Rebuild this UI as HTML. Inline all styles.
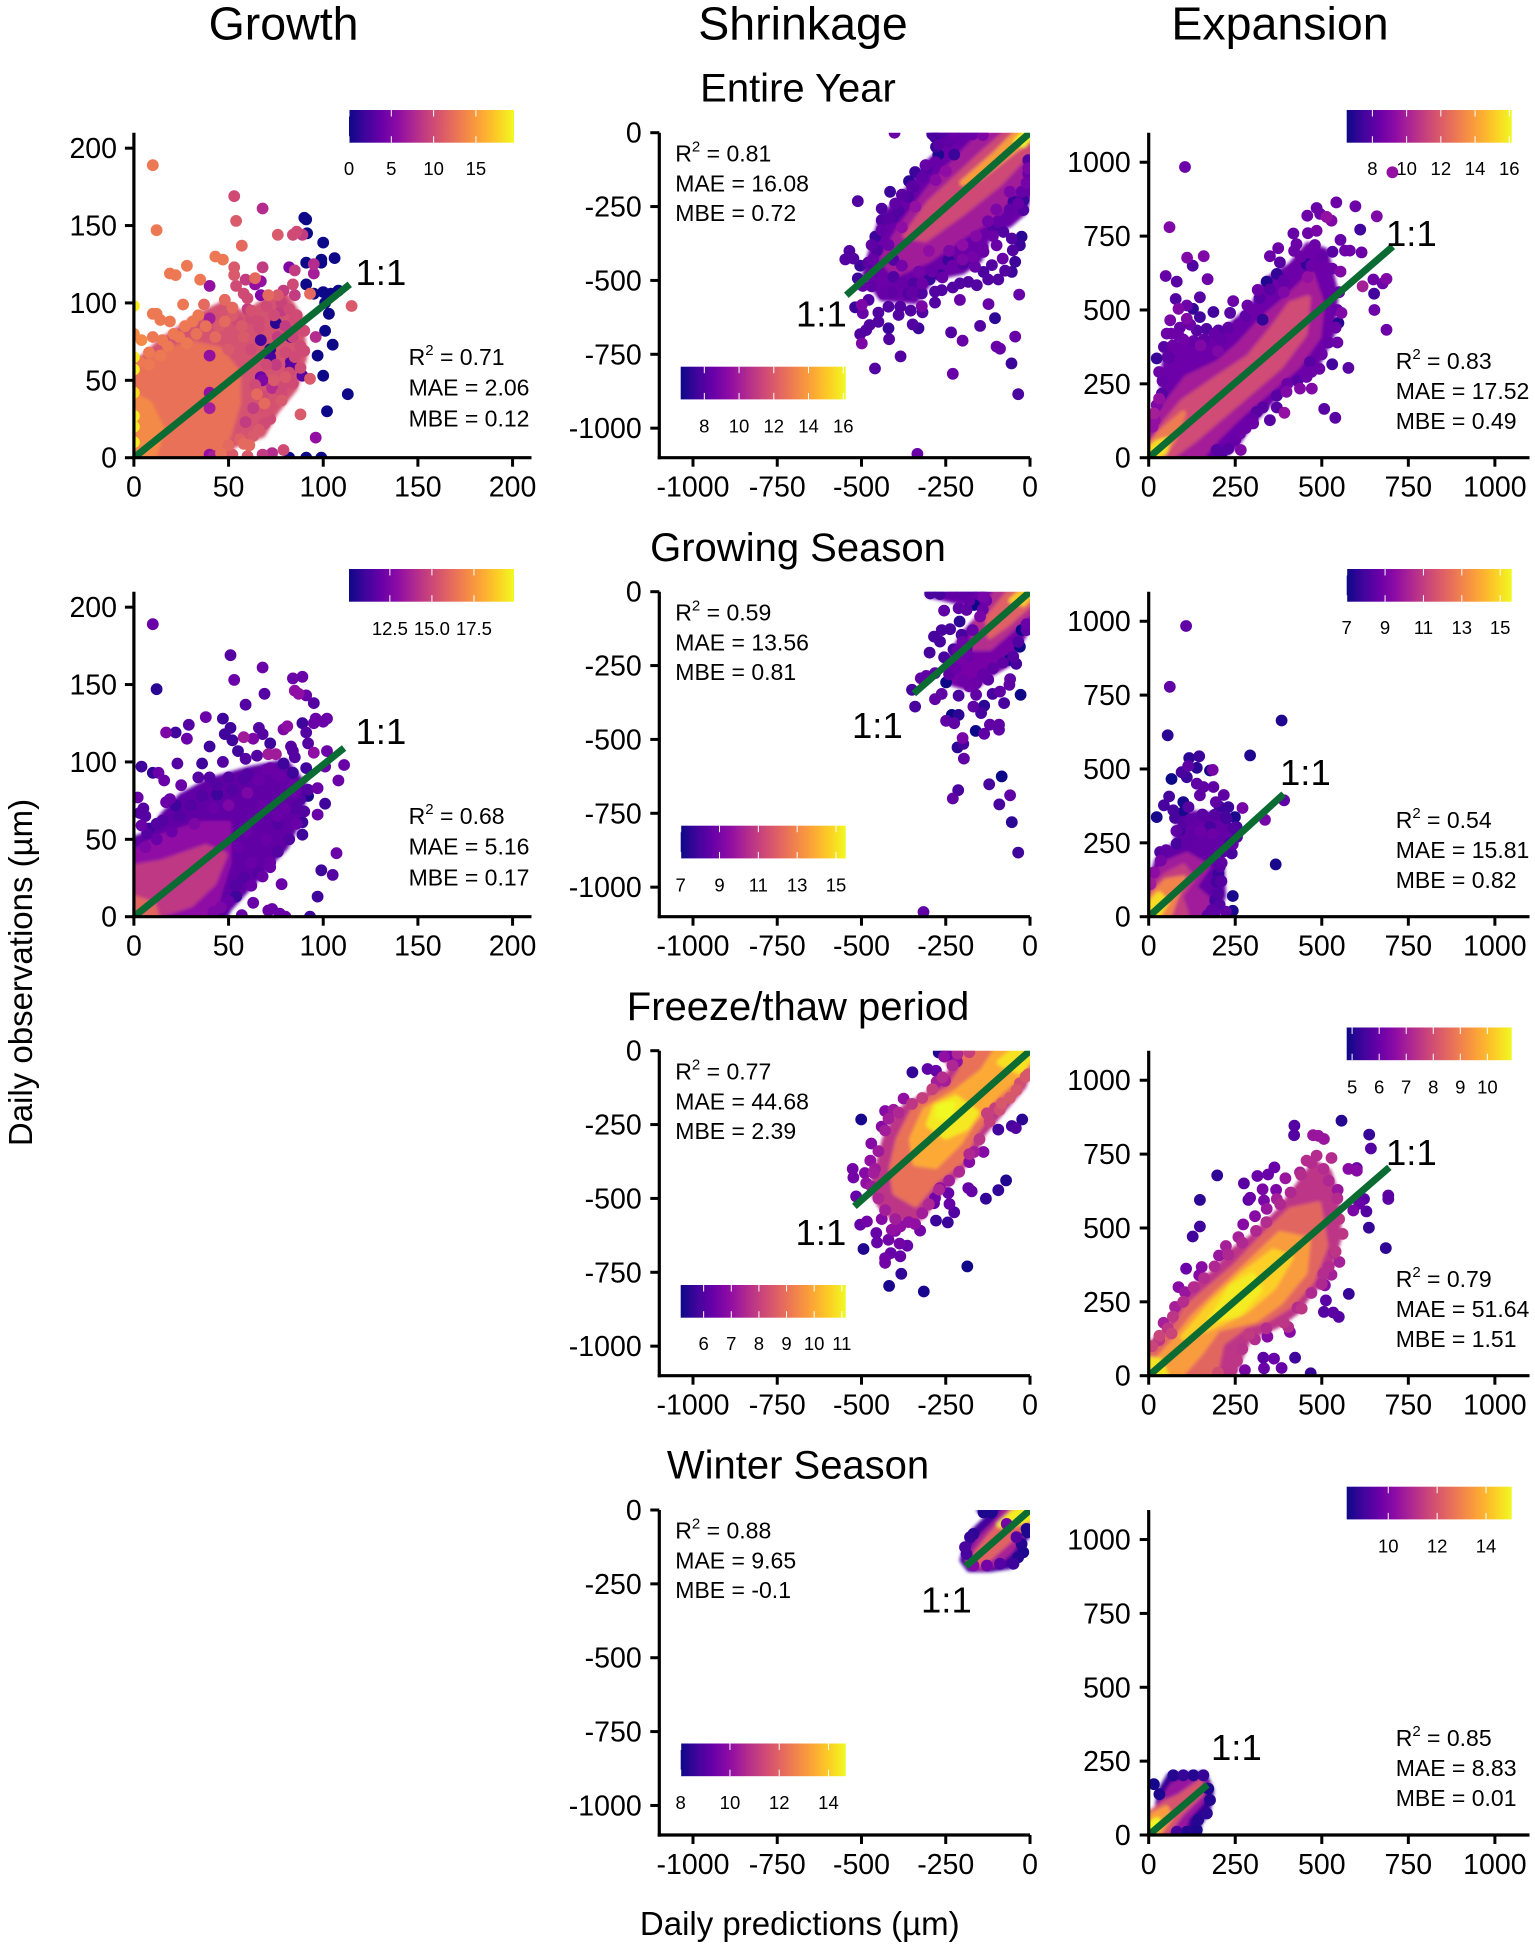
<!DOCTYPE html>
<html lang="en">
<head>
<meta charset="utf-8">
<title>Daily predictions vs observations</title>
<style>
html,body{margin:0;padding:0;background:#fff;width:1535px;height:1948px;overflow:hidden}
svg{display:block;font-family:"Liberation Sans",Arial,sans-serif;fill:#000}
.col{font-size:46.5px;text-anchor:middle}
.row{font-size:40px;text-anchor:middle}
.axt{font-size:33px;text-anchor:middle}
.st{font-size:23px}
.one{font-size:36.5px}
.sup{font-size:15px}
</style>
</head>
<body>
<svg id="chart" width="1535" height="1948" viewBox="0 0 1535 1948" xmlns="http://www.w3.org/2000/svg">
<defs>
<filter id="soft" x="-20%" y="-20%" width="140%" height="140%"><feGaussianBlur stdDeviation="1.5"/></filter>
<linearGradient id="plasma" x1="0" x2="1" y1="0" y2="0">
<stop offset="0" stop-color="#0d0887"/><stop offset=".1" stop-color="#41049d"/><stop offset=".2" stop-color="#6a00a8"/><stop offset=".3" stop-color="#8f0da4"/><stop offset=".4" stop-color="#b12a90"/><stop offset=".5" stop-color="#cc4778"/><stop offset=".6" stop-color="#e16462"/><stop offset=".7" stop-color="#f2844b"/><stop offset=".8" stop-color="#fca636"/><stop offset=".9" stop-color="#fcce25"/><stop offset="1" stop-color="#f0f921"/>
</linearGradient>
</defs>
<g id="panels"></g>

<text class="col" x="283.6" y="39.3">Growth</text>
<text class="col" x="803" y="39.3">Shrinkage</text>
<text class="col" x="1280" y="39.3">Expansion</text>
<text class="row" x="798" y="101.7">Entire Year</text>
<text class="row" x="798" y="561">Growing Season</text>
<text class="row" x="798" y="1020">Freeze/thaw period</text>
<text class="row" x="798" y="1478.3">Winter Season</text>
<text class="axt" x="32" y="972.5" transform="rotate(-90 32 972.5)">Daily observations (µm)</text>
<text class="axt" x="799.8" y="1935">Daily predictions (µm)</text>

<g>
<text class="one" x="355.5" y="285">1:1</text>
<text class="one" x="355.5" y="744">1:1</text>
<text class="one" x="796" y="326.7">1:1</text>
<text class="one" x="852" y="737.8">1:1</text>
<text class="one" x="795.5" y="1245">1:1</text>
<text class="one" x="921" y="1612.3">1:1</text>
<text class="one" x="1386" y="246">1:1</text>
<text class="one" x="1280" y="785">1:1</text>
<text class="one" x="1386" y="1165">1:1</text>
<text class="one" x="1211" y="1760">1:1</text>
</g>

<g class="st">
<text x="408.6" y="365">R<tspan class="sup" dy="-10">2</tspan><tspan dy="10"> = 0.71</tspan></text>
<text x="408.6" y="395.7">MAE = 2.06</text><text x="408.6" y="426.7">MBE = 0.12</text></g>
<g class="st">
<text x="408.6" y="824">R<tspan class="sup" dy="-10">2</tspan><tspan dy="10"> = 0.68</tspan></text>
<text x="408.6" y="854.7">MAE = 5.16</text><text x="408.6" y="885.7">MBE = 0.17</text></g>
<g class="st">
<text x="675.3" y="161.7">R<tspan class="sup" dy="-10">2</tspan><tspan dy="10"> = 0.81</tspan></text>
<text x="675.3" y="191.7">MAE = 16.08</text><text x="675.3" y="221">MBE = 0.72</text></g>
<g class="st">
<text x="675.3" y="620.7">R<tspan class="sup" dy="-10">2</tspan><tspan dy="10"> = 0.59</tspan></text>
<text x="675.3" y="650.7">MAE = 13.56</text><text x="675.3" y="680">MBE = 0.81</text></g>
<g class="st">
<text x="675.3" y="1079.7">R<tspan class="sup" dy="-10">2</tspan><tspan dy="10"> = 0.77</tspan></text>
<text x="675.3" y="1109.7">MAE = 44.68</text><text x="675.3" y="1139">MBE = 2.39</text></g>
<g class="st">
<text x="675.3" y="1538.7">R<tspan class="sup" dy="-10">2</tspan><tspan dy="10"> = 0.88</tspan></text>
<text x="675.3" y="1568.7">MAE = 9.65</text><text x="675.3" y="1598">MBE = -0.1</text></g>
<g class="st">
<text x="1395.7" y="369">R<tspan class="sup" dy="-10">2</tspan><tspan dy="10"> = 0.83</tspan></text>
<text x="1395.7" y="399">MAE = 17.52</text><text x="1395.7" y="429">MBE = 0.49</text></g>
<g class="st">
<text x="1395.7" y="828">R<tspan class="sup" dy="-10">2</tspan><tspan dy="10"> = 0.54</tspan></text>
<text x="1395.7" y="858">MAE = 15.81</text><text x="1395.7" y="888">MBE = 0.82</text></g>
<g class="st">
<text x="1395.7" y="1287">R<tspan class="sup" dy="-10">2</tspan><tspan dy="10"> = 0.79</tspan></text>
<text x="1395.7" y="1317">MAE = 51.64</text><text x="1395.7" y="1347">MBE = 1.51</text></g>
<g class="st">
<text x="1395.7" y="1746">R<tspan class="sup" dy="-10">2</tspan><tspan dy="10"> = 0.85</tspan></text>
<text x="1395.7" y="1776">MAE = 8.83</text><text x="1395.7" y="1806">MBE = 0.01</text></g>
</svg>

<script>
/* Tick labels */
const growthTicks = [0, 50, 100, 150, 200];
const shrinkTicks = [-1000, -750, -500, -250, 0];
const expansionTicks = [0, 250, 500, 750, 1000];

/* Colour-bar domains and ticks */
const growthEntireBarDomain = [0, 19.5];
const growthEntireBarTicks = [0, 5, 10, 15];
const growthEntireBarLabels = ["0", "5", "10", "15"];
const growthGrowingBarDomain = [10.07, 19.88];
const growthGrowingBarTicks = [12.5, 15, 17.5];
const growthGrowingBarLabels = ["12.5", "15.0", "17.5"];
const shrinkEntireBarDomain = [6.64, 16.14];
const shrinkEntireBarTicks = [8, 10, 12, 14, 16];
const shrinkEntireBarLabels = ["8", "10", "12", "14", "16"];
const shrinkGrowingBarDomain = [7, 15.5];
const shrinkGrowingBarTicks = [7, 9, 11, 13, 15];
const shrinkGrowingBarLabels = ["7", "9", "11", "13", "15"];
const shrinkFreezeBarDomain = [5.17, 11.14];
const shrinkFreezeBarTicks = [6, 7, 8, 9, 10, 11];
const shrinkFreezeBarLabels = ["6", "7", "8", "9", "10", "11"];
const shrinkWinterBarDomain = [8, 14.7];
const shrinkWinterBarTicks = [8, 10, 12, 14];
const shrinkWinterBarLabels = ["8", "10", "12", "14"];
const expansionEntireBarDomain = [6.5, 16.14];
const expansionEntireBarTicks = [8, 10, 12, 14, 16];
const expansionEntireBarLabels = ["8", "10", "12", "14", "16"];
const expansionGrowingBarDomain = [7, 15.6];
const expansionGrowingBarTicks = [7, 9, 11, 13, 15];
const expansionGrowingBarLabels = ["7", "9", "11", "13", "15"];
const expansionFreezeBarDomain = [4.8, 10.9];
const expansionFreezeBarTicks = [5, 6, 7, 8, 9, 10];
const expansionFreezeBarLabels = ["5", "6", "7", "8", "9", "10"];
const expansionWinterBarDomain = [8.3, 15.05];
const expansionWinterBarTicks = [10, 12, 14];
const expansionWinterBarLabels = ["10", "12", "14"];

/* 1:1 line end points (prediction, observation) */
const growthEntireLine = [114, 112];
const growthGrowingLine = [111, 109];
const shrinkEntireLine = [-545, -550];
const shrinkGrowingLine = [-345, -345];
const shrinkFreezeLine = [-521, -527];
const shrinkWinterLine = [-190, -190];
const expansionEntireLine = [705, 715];
const expansionGrowingLine = [390, 415];
const expansionFreezeLine = [695, 705];
const expansionWinterLine = [170, 170];

const growthEntireBands = [
[10.5,[[0,0],[0,60],[8,68],[15,76],[25,84],[35,92],[48,100],[58,92],[68,100],[80,105],[88,90],[90,65],[85,45],[75,30],[68,15],[52,8],[48,0]]],
[12.5,[[0,0],[0,58],[10,65],[20,70],[30,74],[45,70],[55,55],[55,35],[50,15],[45,0]]],
[14,[[0,0],[0,40],[8,35],[15,18],[10,0]]]];
const growthGrowingBands = [
[11.8,[[0,0],[0,50],[10,55],[15,65],[25,78],[40,88],[60,95],[80,100],[90,85],[88,65],[80,45],[72,35],[65,25],[50,5],[48,0]]],
[13,[[0,0],[0,42],[15,52],[35,60],[50,60],[50,35],[45,15],[42,0]]],
[14.5,[[0,0],[0,32],[15,35],[38,45],[48,40],[42,22],[30,8],[10,0]]],
[16,[[0,0],[0,12],[10,8],[12,0]]]];
const shrinkEntireBands = [
[8.6,[[-295,0],[-250,-50],[-300,-100],[-360,-190],[-440,-290],[-470,-400],[-490,-480],[-440,-560],[-340,-570],[-290,-490],[-200,-470],[-150,-430],[-120,-340],[-60,-310],[-20,-270],[0,-200],[0,0]]],
[10,[[-140,0],[-200,-70],[-300,-190],[-390,-330],[-440,-430],[-400,-480],[-300,-430],[-200,-350],[-100,-280],[-30,-170],[0,-100],[0,0]]],
[11.5,[[-70,0],[-150,-80],[-300,-240],[-370,-350],[-310,-360],[-200,-270],[-90,-170],[0,-60],[0,0]]],
[14,[[-40,0],[-100,-70],[-200,-170],[-150,-150],[-60,-70],[0,-20],[0,0]]],
[16,[[-15,0],[-40,-30],[-20,-40],[0,-10],[0,0]]]];
const shrinkGrowingBands = [
[8.7,[[-300,0],[-300,-10],[-150,-50],[-140,0]]],
[9,[[-140,0],[-130,-60],[-200,-150],[-250,-250],[-230,-310],[-170,-330],[-120,-280],[-60,-240],[-30,-170],[0,-110],[0,0]]],
[10.5,[[-100,0],[-160,-100],[-170,-190],[-120,-190],[-50,-120],[0,-70],[0,0]]],
[12,[[-60,0],[-125,-90],[-120,-150],[-70,-110],[0,-40],[0,0]]],
[14.5,[[-25,0],[-55,-30],[-20,-40],[0,-15],[0,0]]]];
const shrinkFreezeBands = [
[7.8,[[-260,0],[-230,-60],[-260,-110],[-290,-140],[-370,-190],[-400,-230],[-430,-300],[-450,-390],[-470,-470],[-440,-530],[-380,-590],[-320,-560],[-270,-480],[-220,-420],[-160,-330],[-140,-280],[-80,-200],[-20,-120],[0,-60],[0,0]]],
[9,[[-220,0],[-200,-60],[-240,-130],[-340,-190],[-390,-300],[-410,-400],[-400,-480],[-340,-520],[-280,-440],[-200,-370],[-170,-290],[-110,-190],[-40,-120],[0,-30],[0,0]]],
[10,[[-100,0],[-140,-70],[-220,-140],[-310,-200],[-350,-300],[-340,-380],[-280,-390],[-210,-310],[-170,-240],[-100,-150],[-20,-70],[0,-20],[0,0]]],
[10.9,[[-220,-160],[-280,-190],[-300,-250],[-250,-290],[-190,-260],[-160,-210]]],
[10.8,[[-50,0],[-90,-40],[-30,-70],[0,-30],[0,0]]],
[11.14,[[-230,-180],[-270,-190],[-270,-220],[-240,-230]]]];
const shrinkWinterBands = [
[8.7,[[-150,0],[-120,-20],[-165,-70],[-190,-130],[-200,-170],[-180,-200],[-120,-200],[-60,-190],[-40,-140],[-20,-100],[0,-80],[0,0]]],
[10.5,[[-75,0],[-90,-30],[-150,-100],[-185,-165],[-150,-195],[-100,-180],[-60,-140],[-10,-60],[0,-40],[0,0]]],
[12,[[-50,0],[-120,-90],[-180,-180],[-140,-180],[-60,-100],[0,-50],[0,0]]],
[14.5,[[-30,0],[-50,-10],[-90,-50],[-60,-50],[-15,-35],[0,-30],[0,0]]]];
const expansionEntireBands = [
[8.5,[[0,0],[0,100],[40,220],[50,370],[100,390],[180,410],[240,450],[300,510],[340,600],[410,650],[460,720],[510,700],[540,560],[530,420],[480,300],[420,260],[360,200],[290,110],[250,40],[205,0]]],
[10,[[0,0],[0,80],[50,180],[110,270],[200,320],[260,380],[330,470],[400,540],[470,620],[500,520],[490,410],[430,310],[360,240],[270,150],[200,70],[150,0]]],
[11.5,[[0,30],[50,120],[100,190],[200,270],[290,340],[360,440],[410,520],[460,540],[450,420],[380,310],[300,230],[200,130],[130,60],[60,0],[0,0]]],
[13,[[0,40],[40,90],[100,150],[70,60],[40,10],[10,0],[0,0]]],
[15.5,[[0,25],[25,50],[55,60],[45,20],[20,0],[0,0]]]];
const expansionGrowingBands = [
[8.6,[[80,300],[130,350],[210,340],[245,290],[230,230],[150,220],[85,240]]],
[8.6,[[0,0],[0,90],[25,190],[90,260],[170,240],[210,180],[215,70],[190,0]]],
[10,[[0,0],[0,120],[50,180],[110,210],[170,170],[130,100],[170,60],[170,0]]],
[11,[[0,0],[0,80],[50,140],[100,170],[125,130],[90,70],[110,0]]],
[13,[[0,0],[0,60],[50,120],[100,130],[75,60],[60,10],[30,0]]],
[15,[[0,0],[0,40],[30,75],[50,50],[25,0]]]];
const expansionFreezeBands = [
[7.5,[[0,0],[0,100],[30,130],[60,160],[90,240],[140,310],[190,350],[240,420],[300,470],[380,560],[430,640],[480,720],[520,690],[540,620],[550,470],[510,320],[470,290],[430,220],[370,170],[290,130],[260,50],[240,0]]],
[8.5,[[0,0],[0,90],[70,150],[110,230],[170,290],[250,370],[330,470],[410,560],[490,580],[510,440],[470,320],[410,240],[340,190],[280,170],[210,110],[190,0]]],
[9.5,[[0,20],[70,110],[130,200],[200,280],[290,380],[380,480],[460,460],[450,350],[380,250],[310,190],[200,160],[150,80],[90,0],[0,0]]],
[10.3,[[100,130],[180,240],[270,340],[360,420],[410,400],[360,300],[280,220],[190,170]]],
[10.7,[[180,190],[240,300],[300,340],[320,290],[260,210]]],
[10.6,[[0,0],[0,55],[30,50],[50,0]]]];
const expansionWinterBands = [
[8.8,[[5,0],[0,40],[25,90],[35,150],[60,200],[160,205],[180,150],[170,80],[145,40],[140,0]]],
[10.5,[[0,0],[0,50],[30,100],[70,170],[120,190],[170,170],[150,110],[110,60],[100,20],[70,0]]],
[12,[[0,0],[0,70],[50,110],[90,130],[150,180],[150,140],[90,70],[60,20],[40,0]]],
[13.5,[[0,0],[0,60],[50,90],[60,60],[30,10]]],
[15,[[0,10],[0,35],[25,50],[25,25]]]];

/* Individual points: [prediction, observation, density] */
const growthEntirePoints = [[10,189,13],[12,147,13],[53,169,10],[68,161,8],[54,153,11],[90,155,0],[91,154,0],[91.5,145,0],[76,144,11],[84,144,10],[86,146,10],[89,144,9],[100,139,0],[57,137,12],[106,129,0],[99,128,0],[99,126,0],[91,126,0],[43,130,13],[47,128,13],[28,124,13],[19,119,13],[22,118,13],[35,115,13],[40,111,6],[53,123,11],[53,118,11],[68,123,9],[82,123,5],[85,121,9],[95,125,8],[95,119,7],[59,115,9],[64,116,12],[64,112,6],[67,114,6],[91,112,0],[54,111,10],[58,106,10],[67,105,5],[71,105,12],[76,105,11],[79,108,9],[84,112,10],[85,105,9],[93,106,12],[95,106,0],[100,107,0],[104,106,0],[108,108,0],[101,100,0],[103,93,0],[115,98,11],[26,99,13],[37,99,12],[48,102,12],[52,97,12],[60,103,10],[60,96,9],[10,93,13],[12,93,13],[14,89,13],[19,88,13],[34,92,13],[40,90,7],[27,85,13],[31,88,13],[75,87,1],[101,82,0],[90,82,10],[96,78,8],[105,73,0],[97,66,0],[89,53,3],[100,53,0],[93,51,11],[113,41,0],[102,30,0],[88,28,11],[78,37,11],[96,13,6],[79,5,10],[73,3,8],[68,2,9],[91,0,0],[99,0,0],[82,0,0],[90,69,10],[83,59,3],[83,62,3],[79,47,10],[73,45,8],[65,41,12],[69,22,10],[69,35,12],[59,23,9],[63,32,9],[61,8,12],[58,9,12],[0,98,19],[0,65,19],[0,57,19],[0,42,18],[0,27,19],[0,20,19],[0,10,19],[0,80,14],[4,76,14],[8,68,13],[40,42,6],[40,32,7],[40,66,6],[67,52,4],[68,50,5],[72,70,1],[72,65,2],[83,78,2],[67,76,2],[40,2,6],[64,47,10],[75,60,9],[80,85,9],[78,95,9],[85,90,10],[10,78,13],[15,76,13],[21,80,13],[45,85,11],[55,88,10],[62,90,10],
[3,62,13],[8,60,13],[14,66,13],[18,72,13],[24,78,13],[28,74,13],[33,80,12.5],[38,85,12.5],[43,78,12],[48,88,12],[52,92,11],[57,85,11],[62,95,10.5],[66,88,10],[70,98,10],[74,92,10],[78,100,9.5],[82,96,10],[86,92,10],[87,84,10],[84,78,9.5],[88,72,10],[85,65,10],[88,58,10],[82,55,10],[84,48,10],[78,42,10],[80,52,11],[74,35,10.5],[70,30,10.5],[72,25,10],[66,18,11],[63,14,11],[56,12,11.5],[50,8,12],[46,3,12.5],[52,2,11],[60,1,11],[42,1,7],[68,40,10],[74,50,11],[70,60,10],[62,70,10],[58,78,11],[50,70,11],[66,84,10],[76,78,9],[80,68,10]];
const growthGrowingPoints = [[10,189,12],[12,147,10.6],[51,169,11.5],[68,161,12],[53,153,12],[84,154,12],[89,155,12],[69,144,11.5],[85,146,13],[87,144,13],[91,143,12],[95,138,11.5],[59,137,11.5],[38,129,12],[47,128,11],[29,124,11.5],[17,119,12.5],[22,119,11],[28,115,12],[40,110,11],[51,122,11],[48,118,11],[66,122,11.5],[79,121,12.5],[81,123,13],[89,125,11],[96,128,12],[102,128,12],[100,126,12],[95,125,12],[91,119,11.5],[68,118,11.5],[58,116,13.5],[63,115,12.5],[72,112,11],[52,114,11],[55,107,11],[83,110,11.5],[84,107,11.5],[85,103,11.5],[92,112,11.5],[95,106,13],[102,107,12],[65,104,11.5],[71,105,13.5],[75,105,13.5],[59,102,11.5],[47,100,11.5],[36,99,11],[23,99,11.5],[4,97,11],[10,93,10.8],[13,93,12],[16,88,12],[79,99,11],[84,93,11],[91,96,11],[101,97,12],[111,98,12],[108,88,12],[97,83,12],[92,82,11.5],[92,78,10.3],[101,73,11],[97,66,12],[89,61,11],[89,53,11],[107,41,12],[99,30,11],[105,27,11.5],[97,13,11],[78,21,12],[72,35,12],[68,26,12],[62,20,12],[54,13,11],[63,9,12],[73,5,12],[71,4,12],[77,2,12],[93,0,11],[57,1,12],[80,0,12],[2,77,12],[5,70,11.5],[3,67,11.5],[6,65,11.5],[4,59,12],[8,57,11],[7,54,11.5],[12,60,11.5],[17,74,12],[19,76,12],[25,85,12],[34,90,11.5],[40,90,11.5],[44,79,11],[50,90,11.5],[58,89,11.5],[70,95,12],[75,92,12],[85,80,12],[80,70,12],[76,60,11.5],[85,70,11.5],
[6,45,12.5],[12,50,12],[20,55,12],[15,62,11.5],[24,65,11.5],[30,72,11.5],[22,72,11],[36,78,11.5],[44,85,11.5],[52,82,11.5],[60,92,11.5],[66,88,12],[72,96,12],[78,90,12],[84,85,12],[88,76,11.5],[90,68,11.5],[86,60,12],[82,50,11.5],[76,42,11.5],[72,32,12],[66,28,11.5],[62,35,12],[58,25,11.5],[54,20,11.5],[50,10,12],[46,6,12.5],[42,3,12.5],[70,50,12],[76,65,12],[68,72,12],[60,80,12.5],[50,72,12.5],[42,70,12],[32,60,12.5],[40,55,13],[55,45,12],[60,55,12]];
const shrinkEntirePoints = [[-402,0,8.5],[-511,-232,8],[-415,-200,7.5],[-341,-133,7.5],[-359,-164,7.2],[-272,-74,7],[-279,-48,7.5],[-225,-74,7.5],[-440,-257,8],[-390,-265,8],[-459,-352,7.5],[-536,-400,8],[-548,-429,8],[-524,-426,8],[-504,-450,7.5],[-466,-429,8.5],[-511,-493,7.5],[-496,-519,8.5],[-479,-566,8],[-519,-591,7.5],[-499,-583,9],[-496,-611,8.5],[-450,-609,8],[-450,-640,8],[-476,-651,8],[-420,-662,7.5],[-504,-682,8],[-486,-668,8],[-499,-713,9],[-418,-699,8],[-385,-589,8],[-390,-617,8],[-354,-602,8],[-321,-587,9],[-319,-608,8],[-348,-649,8],[-331,-662,7.5],[-384,-757,8],[-460,-798,8],[-234,-676,8],[-200,-704,8.5],[-148,-654,8],[-104,-628,7.2],[-123,-580,8.5],[-32,-548,8.5],[-44,-690,8.5],[-99,-724,8.5],[-89,-731,8.5],[-55,-781,7.5],[-229,-816,8.5],[-35,-885,7.8],[-334,-1087,8.5],[-282,-575,8],[-262,-533,8],[-282,-538,8],[-321,-544,8],[-298,-497,7.5],[-267,-482,7.5],[-229,-524,8],[-208,-566,8.5],[-208,-510,8],[-183,-505,8],[-158,-516,8],[-163,-454,8.5],[-138,-471,7.8],[-113,-448,8],[-94,-497,8],[-124,-497,8],[-74,-467,8],[-54,-471,7.5],[-44,-437,7.5],[-81,-426,8.5],[-51,-398,8],[-30,-381,7.5],[-25,-352,7.2],[-54,-358,8],[-99,-381,8.5],[-79,-336,8],[-20,-262,8],[-20,-229,7.5],[-49,-234,7.5],[-10,-195,8.5],[-5,-139,8.5],[-5,-93,8],[-109,-319,8],[-138,-403,8.5],[-198,-443,8],[-242,-431,7.5],[-405,-431,8],[-405,-488,8],[-361,-544,8],[-346,-510,8],[-435,-544,8.5],[-420,-589,8],[-454,-398,8],[-282,-15,7.5],[-257,-3,8],[-227,-9,8.5],[-208,-26,8.5],[-306,-122,8],[-346,-184,8],[-361,-217,8],[-405,-285,8],[-440,-296,8],
[-470,-380,8.3],[-480,-440,8.2],[-460,-470,8.5],[-470,-520,8.3],[-440,-500,8.6],[-410,-540,8.3],[-380,-510,8.5],[-350,-540,8.4],[-320,-510,8.6],[-290,-470,8.5],[-260,-490,8.5],[-230,-450,8.6],[-200,-430,9],[-170,-420,8.8],[-140,-390,8.6],[-110,-350,8.6],[-125,-300,8.8],[-95,-300,8.5],[-70,-290,8.5],[-60,-260,8.4],[-35,-240,8.5],[-25,-200,8.5],[-10,-170,8.8],[-5,-120,9],[-440,-330,8.4],[-420,-290,8.2],[-400,-240,8.3],[-380,-210,8.2],[-350,-180,8.2],[-320,-150,8.3],[-310,-110,8.5],[-280,-100,8.5],[-270,-40,8.2],[-240,-30,8.3],[-200,-10,8.5],[-170,-5,8.6],[-140,-8,9],[-290,-5,7.8],[-420,-380,8.6],[-380,-450,8.8],[-330,-470,8.8],[-240,-400,9],[-160,-350,9.2],[-100,-260,9],[-60,-200,9],[-380,-320,9.5],[-300,-400,9.5],[-200,-380,9.5],[-340,-250,9.6],[-250,-130,9.5],[-280,-160,9.3]];
const shrinkGrowingPoints = [[-255,-64,8.5],[-209,-101,7.5],[-285,-152,8],[-262,-130,8],[-237,-127,8],[-298,-206,8],[-255,-222,8],[-267,-169,8],[-203,-146,8],[-227,-195,8],[-188,-191,8.5],[-166,-45,7],[-212,-56,8.5],[-25,-130,7],[-30,-186,7],[-10,-130,8.5],[-61,-231,7],[-41,-244,8],[-59,-296,8.5],[-61,-315,8.5],[-124,-298,8.5],[-28,-349,7],[-77,-377,8],[-89,-338,8.5],[-111,-346,8],[-160,-349,8.5],[-136,-386,7.5],[-168,-389,8.5],[-145,-411,8],[-212,-352,8],[-249,-307,7],[-282,-364,8.5],[-262,-346,8.5],[-308,-285,8.5],[-324,-293,8.5],[-282,-276,8.5],[-350,-332,8],[-341,-389,8],[-232,-417,7],[-212,-417,7.5],[-249,-437,8.5],[-225,-445,8.5],[-161,-471,7],[-136,-481,8.5],[-119,-450,8.5],[-92,-450,8.5],[-92,-467,8.5],[-200,-495,9],[-198,-515,8],[-215,-527,7.5],[-196,-565,8.5],[-84,-625,7],[-121,-652,8],[-59,-689,8.5],[-91,-720,8],[-54,-780,7.5],[-35,-883,7.8],[-213,-672,8],[-229,-700,8.5],[-316,-1084,8.5],[-296,-6,8],[-267,-8,8],[-232,-6,8.5],[-203,-8,8.5],[-173,-6,8.5],[-138,-17,9],[-188,-62,8.5],[-148,-84,9],
[-240,-280,8.5],[-220,-260,8.7],[-200,-300,8.8],[-180,-320,8.8],[-160,-310,8.7],[-140,-280,8.6],[-110,-260,8.5],[-80,-240,8.5],[-50,-220,8.3],[-35,-170,8.2],[-10,-110,8.7],[-180,-220,8.8],[-215,-200,8.7],[-200,-170,8.8],[-170,-130,8.6],[-140,-60,8.7],[-130,-30,8.8],[-180,-30,8.6],[-150,-10,8.7]];
const shrinkFreezePoints = [[-501,-233,5.3],[-349,-73,5.6],[-304,-62,6.2],[-279,-68,6.3],[-271,-6,5.4],[-245,-15,6.5],[-217,-37,7],[-277,-105,7.3],[-252,-102,7.3],[-375,-162,7],[-430,-204,6.8],[-405,-200,7.2],[-440,-257,6.8],[-471,-314,6.8],[-474,-372,7],[-526,-400,6.5],[-524,-429,6.5],[-490,-414,6.8],[-486,-448,7],[-516,-493,6.3],[-464,-414,7.3],[-504,-589,6.3],[-484,-578,6.5],[-456,-617,6.3],[-454,-649,6.3],[-494,-671,5.4],[-420,-640,6.5],[-413,-685,6.3],[-385,-696,6.3],[-430,-718,6.5],[-430,-702,6.5],[-382,-755,5.6],[-418,-796,5.3],[-315,-815,5.3],[-186,-730,5.2],[-364,-660,6.3],[-387,-653,6.5],[-410,-606,7],[-385,-595,7],[-341,-587,7],[-326,-609,6.5],[-279,-575,5.7],[-244,-581,5.7],[-225,-547,6],[-239,-519,6.3],[-242,-482,6.3],[-285,-516,6.3],[-282,-499,6.5],[-267,-465,7],[-183,-465,6.3],[-173,-476,6.3],[-131,-501,5.6],[-94,-472,5.6],[-71,-439,5.4],[-180,-377,6.8],[-138,-343,6.8],[-166,-343,7.3],[-94,-267,5.8],[-54,-255,5.8],[-42,-262,6],[-23,-233,5.5],[-13,-88,8.5],[-40,-133,8.5],[-84,-178,8.5],[-104,-195,8],[-128,-212,8],
[-430,-270,7.3],[-420,-230,7.3],[-390,-210,7.5],[-350,-180,7.8],[-320,-160,8],[-290,-130,8],[-260,-90,7.6],[-230,-50,7.5],[-255,-20,7],[-215,-10,7.5],[-180,-5,8],[-450,-340,7.2],[-460,-400,7.2],[-470,-460,7.2],[-450,-500,7.5],[-430,-540,7.3],[-400,-570,7.3],[-360,-580,7],[-320,-550,7.3],[-300,-520,7.5],[-270,-470,7.5],[-240,-440,7.3],[-210,-410,7.5],[-180,-350,7.5],[-150,-300,7.8],[-120,-240,8],[-90,-200,8.3],[-60,-160,8.5],[-30,-110,8.3],[-5,-80,8.5],[-440,-570,6.8],[-400,-610,6.8]];
const shrinkWinterPoints = [[-138,-8,8.2],[-114,-8,8.2],[-168,-81,8.4],[-178,-92,8.5],[-188,-149,8.8],[-193,-126,8.8],[-10,-64,8.2],[-8,-75,8.2],[-25,-115,8.3],[-20,-143,8.2],[-35,-160,8.3],[-49,-182,8.6],[-89,-182,9],[-128,-188,9.5],[-168,-188,9.8],[-40,-92,9],[-69,-47,9.5]];
const expansionEntirePoints = [[105,984,8.5],[704,966,9.5],[60,780,9],[49,615,8.3],[81,596,8],[111,677,9],[127,650,7.8],[159,682,9],[170,604,8.5],[78,537,7.8],[148,543,8],[23,336,7.3],[57,339,7.5],[128,504,7.2],[148,476,7.5],[187,493,7.5],[244,530,8.5],[235,490,8],[285,515,8.5],[329,467,7.2],[315,568,8.5],[341,596,6.9],[370,622,7.2],[350,682,8.5],[374,709,8.5],[379,661,8],[418,759,8.3],[427,723,8.5],[458,819,8.5],[485,845,8.3],[495,825,8.5],[514,815,9.5],[528,802,9],[542,864,8.5],[597,851,8.5],[659,817,9],[611,772,7.5],[554,737,8.3],[531,697,8],[567,701,8.5],[581,701,8.5],[615,695,8.5],[485,768,8.8],[456,656,7.2],[459,611,9.5],[554,630,9],[618,580,10],[649,603,8.5],[676,590,8.5],[687,605,9],[651,555,7.5],[652,500,8.5],[687,433,8.5],[557,490,9],[548,456,7],[545,390,8.5],[530,316,7.5],[577,304,8],[507,165,8],[539,135,8],[493,301,8.5],[466,324,8],[471,234,9],[437,234,9],[456,273,8.5],[398,223,9],[392,152,9.5],[350,127,8],[302,116,8.5],[312,155,8],[370,170,8],[266,26,9],[196,26,8],[264,82,8.5],[44,375,8],[52,420,8.5],[86,414,8.5],[62,465,8.8],[86,504,9],[110,515,8.5],[110,470,9],[139,431,8],[167,436,7.8],[201,431,8],[38,217,8],[23,178,9],[18,127,9.5],[11,105,9.5],
[40,260,8.3],[60,300,8.5],[55,340,8.2],[70,380,8.5],[100,400,8.6],[130,395,8.3],[160,400,8.2],[190,420,8.3],[210,400,8.3],[230,440,8.2],[260,450,8.5],[280,480,8.2],[300,500,8.5],[320,540,8],[350,570,8],[390,600,8.3],[420,640,8.5],[440,680,8.5],[480,720,8.5],[500,680,8.3],[530,640,8.5],[550,560,8.3],[545,500,8.3],[540,440,8.5],[520,390,8.3],[500,350,8.5],[470,290,8.5],[430,260,8],[400,250,8.5],[370,210,8],[330,170,8],[300,130,8.3],[280,100,8.5],[250,60,8.3],[230,30,8],[210,10,8],[30,290,8.5],[90,440,8.3],[65,420,8.5],[120,450,8.5],[150,380,9],[200,360,9],[420,700,8.5],[460,760,8.5],[470,650,8.5],[390,560,9],[30,200,9.5],[15,150,10]];
const expansionGrowingPoints = [[108,984,8.5],[61,778,8.5],[55,614,7.5],[384,664,7.3],[293,546,7.3],[117,537,7.5],[146,543,7.8],[114,510,8.5],[95,489,8],[139,504,7.5],[177,495,7],[185,497,9],[66,466,7],[110,472,7.8],[139,450,8.5],[158,439,8.5],[187,439,8.5],[148,411,8.5],[217,412,8.5],[194,388,8.5],[59,407,8],[44,377,8],[23,337,7.2],[100,388,7.2],[115,371,8.3],[71,360,8],[100,354,7.2],[76,334,8],[204,373,7.8],[230,371,7.8],[271,368,9],[249,337,7.2],[155,346,8.3],[100,321,8.3],[225,332,8],[336,328,9],[391,394,8.5],[90,292,8],[177,304,8],[254,304,8],[81,247,8],[33,219,8.2],[240,214,8],[243,245,8.5],[367,177,7.2],[211,182,8.5],[201,146,7.8],[196,118,8],[243,70,7.2],[243,20,7.2],[223,17,8.5],[192,56,8],[182,22,8.5],
[5,110,10],[15,150,9.5],[35,190,9],[50,225,8.5],[80,290,8.5],[120,330,8.5],[160,340,8.4],[190,345,8.3],[220,340,8],[245,300,8.2],[255,270,8.2],[235,250,8],[215,220,8.2],[205,170,8.3],[210,120,8.3],[200,80,8.2],[205,40,8.3],[190,10,8.5],[170,5,8.5],[150,290,8.8],[185,280,8.8],[130,280,8.5],[110,250,8.5]];
const expansionFreezePoints = [[557,863,5.1],[421,846,5.7],[420,814,5.7],[475,814,6.8],[490,812,6.8],[506,801,6.8],[637,816,5.3],[642,769,5.7],[363,705,6],[345,681,6],[314,676,6],[395,668,6.8],[275,651,5.8],[198,678,5.2],[148,595,5.2],[148,505,5.4],[127,471,5.4],[108,362,6],[153,368,6.5],[146,340,6.5],[86,300,6.5],[105,283,6.8],[76,233,7],[43,179,7],[31,135,7.8],[66,143,7.8],[203,407,6.8],[223,439,7],[259,469,7],[273,512,6.5],[307,540,6.5],[288,595,5.8],[293,602,6],[329,631,6.3],[333,593,6.3],[368,629,6.3],[370,598,7],[341,565,6.8],[437,688,7],[456,728,7.3],[485,745,7.3],[528,737,7.3],[577,700,6.5],[601,694,6.5],[601,703,6],[546,629,6.8],[622,598,5.8],[591,559,6.3],[608,582,6],[629,556,5.7],[692,598,5.8],[692,610,5.8],[636,501,5.3],[685,432,5.2],[536,415,7.3],[551,385,7],[528,342,7],[504,345,7.3],[509,306,6.5],[578,277,5.3],[512,255,5.8],[506,216,5.7],[533,214,5.8],[549,199,5.7],[442,227,7.5],[403,165,7.3],[408,148,6.5],[343,132,6.5],[307,123,7.3],[331,61,5.8],[362,58,6],[423,61,5.4],[384,26,6],[333,25,6],[468,8,5.3],[278,19,6.3],
[10,100,7.8],[30,120,7.5],[55,160,7.5],[70,200,7.5],[100,250,7.3],[130,300,7.3],[160,330,7.3],[190,370,7.2],[230,410,7.2],[270,450,7.2],[310,490,7.2],[340,520,7.3],[380,580,7.2],[410,620,7.2],[440,680,7.3],[470,720,7.3],[505,700,7.3],[520,660,7.2],[545,600,7.3],[550,530,7.5],[560,480,7.5],[540,420,7.5],[520,370,7.3],[500,310,7.2],[470,280,7.2],[430,230,7.3],[390,180,7.5],[340,160,7.3],[290,140,7.6],[270,90,7.4],[255,50,7.5],[240,20,7.5],[200,10,8]];
const expansionWinterPoints = [[15,172,8.4],[31,138,8.5],[71,202,8.6],[100,202,8.8],[129,202,8.6],[158,202,8.8],[172,157,8.5],[177,118,8.6],[168,73,8.7],[143,51,8.6],[139,17,8.5],[110,11,8.6],[81,11,9]];

/* Layout (pixels), kept apart from the data */
const COLS = {
  growth: {left: 133.9, right: 531.5, xDom: [0, 210], yDom: [0, 210], ticks: growthTicks, labelX: 117},
  shrink: {left: 659.3, right: 1030, xDom: [-1100, 0], yDom: [-1100, 0], ticks: shrinkTicks, labelX: 641.7},
  expansion: {left: 1148.7, right: 1529.5, xDom: [0, 1100], yDom: [0, 1100], ticks: expansionTicks, labelX: 1130.7}
};
const ROW_BOTTOM = [457.7, 916.7, 1375.7, 1835];
const PANEL_H = 325;
const BAR_W = 165, BAR_H = 32.7;
const BARS = {
  growth: {x: 349, top: [110, 569], label: [175, 635]},
  shrink: {x: 680.7, top: [366.7, 825.7, 1285, 1743.5], label: [432.7, 891.7, 1350, 1809]},
  expansion: {x: 1346.7, top: [110, 569, 1027.5, 1486.7], label: [175, 634, 1093.3, 1552.7]}
};
const panelList = [
  {name: 'growth-entire-year', col: 'growth', row: 0, points: growthEntirePoints, bands: growthEntireBands, line: growthEntireLine, bar: growthEntireBarDomain, barTicks: growthEntireBarTicks, barLabels: growthEntireBarLabels},
  {name: 'growth-growing-season', col: 'growth', row: 1, points: growthGrowingPoints, bands: growthGrowingBands, line: growthGrowingLine, bar: growthGrowingBarDomain, barTicks: growthGrowingBarTicks, barLabels: growthGrowingBarLabels},
  {name: 'shrinkage-entire-year', col: 'shrink', row: 0, points: shrinkEntirePoints, bands: shrinkEntireBands, line: shrinkEntireLine, bar: shrinkEntireBarDomain, barTicks: shrinkEntireBarTicks, barLabels: shrinkEntireBarLabels},
  {name: 'shrinkage-growing-season', col: 'shrink', row: 1, points: shrinkGrowingPoints, bands: shrinkGrowingBands, line: shrinkGrowingLine, bar: shrinkGrowingBarDomain, barTicks: shrinkGrowingBarTicks, barLabels: shrinkGrowingBarLabels},
  {name: 'shrinkage-freeze-thaw', col: 'shrink', row: 2, points: shrinkFreezePoints, bands: shrinkFreezeBands, line: shrinkFreezeLine, bar: shrinkFreezeBarDomain, barTicks: shrinkFreezeBarTicks, barLabels: shrinkFreezeBarLabels},
  {name: 'shrinkage-winter-season', col: 'shrink', row: 3, points: shrinkWinterPoints, bands: shrinkWinterBands, line: shrinkWinterLine, bar: shrinkWinterBarDomain, barTicks: shrinkWinterBarTicks, barLabels: shrinkWinterBarLabels},
  {name: 'expansion-entire-year', col: 'expansion', row: 0, points: expansionEntirePoints, bands: expansionEntireBands, line: expansionEntireLine, bar: expansionEntireBarDomain, barTicks: expansionEntireBarTicks, barLabels: expansionEntireBarLabels},
  {name: 'expansion-growing-season', col: 'expansion', row: 1, points: expansionGrowingPoints, bands: expansionGrowingBands, line: expansionGrowingLine, bar: expansionGrowingBarDomain, barTicks: expansionGrowingBarTicks, barLabels: expansionGrowingBarLabels},
  {name: 'expansion-freeze-thaw', col: 'expansion', row: 2, points: expansionFreezePoints, bands: expansionFreezeBands, line: expansionFreezeLine, bar: expansionFreezeBarDomain, barTicks: expansionFreezeBarTicks, barLabels: expansionFreezeBarLabels},
  {name: 'expansion-winter-season', col: 'expansion', row: 3, points: expansionWinterPoints, bands: expansionWinterBands, line: expansionWinterLine, bar: expansionWinterBarDomain, barTicks: expansionWinterBarTicks, barLabels: expansionWinterBarLabels}
];

const NS = 'http://www.w3.org/2000/svg';
const plasmaStops = [[13,8,135],[65,4,157],[106,0,168],[143,13,164],[177,42,144],[204,71,120],[225,100,98],[242,132,75],[252,166,54],[252,206,37],[240,249,33]];
function plasma(t) {
  const u = Math.max(0, Math.min(1, t)) * 10, i = Math.min(9, Math.floor(u)), f = u - i;
  const a = plasmaStops[i], b = plasmaStops[i + 1];
  return 'rgb(' + a.map((v, k) => Math.round(v + (b[k] - v) * f)).join(',') + ')';
}
function mk(tag, attrs, parent) {
  const el = document.createElementNS(NS, tag);
  for (const k in attrs) el.setAttribute(k, attrs[k]);
  parent.appendChild(el);
  return el;
}

const root = document.getElementById('panels');
panelList.forEach(function (p, idx) {
  const c = COLS[p.col], bottom = ROW_BOTTOM[p.row], top = bottom - PANEL_H;
  const xScale = v => c.left + (v - c.xDom[0]) / (c.xDom[1] - c.xDom[0]) * (c.right - c.left);
  /* shrinkage y axis has 0 at the top; the others have 0 at the bottom */
  const yScale = v => bottom - (v - c.yDom[0]) / (c.yDom[1] - c.yDom[0]) * PANEL_H;
  const colour = v => plasma((v - p.bar[0]) / (p.bar[1] - p.bar[0]));

  const g = mk('g', {}, root);
  
  

  const clip = mk('clipPath', {id: 'clip' + idx}, g);
  mk('rect', {x: c.left, y: top, width: c.right - c.left, height: PANEL_H}, clip);
  const plot = mk('g', {'clip-path': 'url(#clip' + idx + ')'}, g);
  
  

  const bandGroup = mk('g', {filter: 'url(#soft)'}, plot);
  p.bands.forEach(function (b) {
    const col = colour(b[0]);
    const poly = mk('polygon', {points: b[1].map(q => xScale(q[0]).toFixed(1) + ',' + yScale(q[1]).toFixed(1)).join(' '), fill: col, stroke: col, 'stroke-width': 6, 'stroke-linejoin': 'round'}, bandGroup);
    
    
  });

  p.points.slice().sort((a, b) => a[2] - b[2]).forEach(function (d) {
    const dot = mk('circle', {cx: xScale(d[0]).toFixed(1), cy: yScale(d[1]).toFixed(1), r: 5.9, fill: colour(d[2])}, plot);
    
    
  });

  const refLine = mk('line', {x1: xScale(0), y1: yScale(0), x2: xScale(p.line[0]), y2: yScale(p.line[1]), stroke: '#0a6b33', 'stroke-width': 7}, plot);
  
  

  const xAxis = mk('line', {x1: c.left - 1.6, y1: bottom, x2: c.right, y2: bottom, stroke: '#000', 'stroke-width': 3.2}, g);
  
  
  const yAxis = mk('line', {x1: c.left, y1: top, x2: c.left, y2: bottom + 1.6, stroke: '#000', 'stroke-width': 3.2}, g);
  
  

  c.ticks.forEach(function (t) {
    const tx = xScale(t), ty = yScale(t);
    const xt = mk('line', {x1: tx, y1: bottom, x2: tx, y2: bottom + 9, stroke: '#000', 'stroke-width': 3}, g);
    
    
    const yt = mk('line', {x1: c.left - 9, y1: ty, x2: c.left, y2: ty, stroke: '#000', 'stroke-width': 3}, g);
    
    
    const xl = mk('text', {x: tx, y: bottom + 39, 'font-size': 28.5, 'text-anchor': 'middle'}, g);
    xl.textContent = String(t);
    
    
    const yl = mk('text', {x: c.labelX, y: ty + 10, 'font-size': 28.5, 'text-anchor': 'end'}, g);
    yl.textContent = String(t);
    
    
  });

  /* colour bar */
  const bc = BARS[p.col], by = bc.top[p.row];
  const legend = mk('g', {}, g);
  
  
  mk('rect', {x: bc.x, y: by, width: BAR_W, height: BAR_H, fill: 'url(#plasma)'}, legend);
  const barX = v => bc.x + (v - p.bar[0]) / (p.bar[1] - p.bar[0]) * BAR_W;
  p.barTicks.forEach(function (t, i) {
    const tx = barX(t);
    mk('line', {x1: tx, y1: by, x2: tx, y2: by + 6.5, stroke: '#fff', 'stroke-width': 1}, legend);
    mk('line', {x1: tx, y1: by + BAR_H - 6.5, x2: tx, y2: by + BAR_H, stroke: '#fff', 'stroke-width': 1}, legend);
    const lab = mk('text', {x: tx, y: bc.label[p.row], 'font-size': 18.5, 'text-anchor': 'middle'}, legend);
    lab.textContent = p.barLabels[i];
    
    
  });
});
</script>
</body>
</html>
